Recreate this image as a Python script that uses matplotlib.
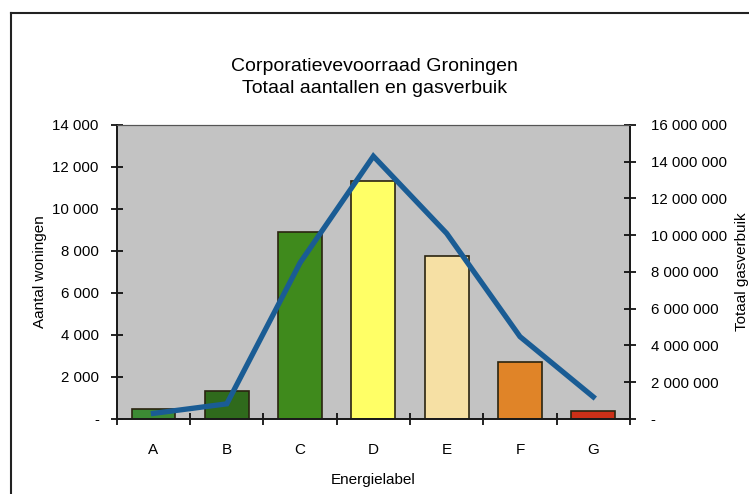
import matplotlib
matplotlib.use("Agg")
import matplotlib.pyplot as plt
import matplotlib.lines as lines
from matplotlib.ticker import FuncFormatter, FixedLocator

# Energielabel categories with number of dwellings and total gas use
labels = ["A", "B", "C", "D", "E", "F", "G"]
aantal = [490, 1350, 8890, 11350, 7780, 2700, 400]
gasverbruik = [300000, 820000, 8500000, 14300000, 10100000, 4480000, 1200000]
barColors = ["#3c8a34", "#2f6a1c", "#3f8a1c", "#ffff66", "#f6e0a4", "#e08428", "#cc3018"]

plt.rcParams["font.family"] = ["Liberation Sans", "DejaVu Sans"]

def thousands(v, pos):
    if v == 0:
        return "-"
    return "{:,.0f}".format(v).replace(",", " ")

fig = plt.figure(figsize=(7.49, 4.94), dpi=100)
ax = fig.add_axes([0.156, 0.152, 0.685, 0.595])
ax.set_facecolor("#c3c3c3")

x = list(range(len(labels)))
ax.bar(x, aantal, width=0.6, color=barColors, edgecolor="#2a2410", linewidth=1.2, zorder=2)
ax.set_xlim(-0.5, len(labels) - 0.5)
ax.set_ylim(0, 14000)
ax.set_yticks(range(0, 14001, 2000))
ax.yaxis.set_major_formatter(FuncFormatter(thousands))

# tick marks between the categories, labels in the middle
ax.xaxis.set_major_locator(FixedLocator([i - 0.5 for i in range(len(labels) + 1)]))
ax.xaxis.set_major_formatter(FuncFormatter(lambda v, p: ""))
ax.xaxis.set_minor_locator(FixedLocator(x))
ax.set_xticklabels(labels, minor=True)
ax.tick_params(axis="x", which="major", direction="inout", length=8, width=1.2)
ax.tick_params(axis="x", which="minor", length=0, pad=17, labelsize=11)
ax.tick_params(axis="y", direction="inout", length=8, width=1.2, labelsize=10.8, pad=9)

ax.set_xlabel("Energielabel", fontsize=11, labelpad=12)
ax.set_ylabel("Aantal woningen", fontsize=11, labelpad=4)

ax2 = ax.twinx()
ax2.plot(x, gasverbruik, color="#1a5c94", linewidth=3.8, solid_joinstyle="miter", zorder=3)
ax2.set_ylim(0, 16000000)
ax2.set_yticks(range(0, 16000001, 2000000))
ax2.yaxis.set_major_formatter(FuncFormatter(thousands))
ax2.tick_params(axis="y", direction="inout", length=8, width=1.2, labelsize=10.8, pad=11)
ax2.set_ylabel("Totaal gasverbuik", fontsize=11, labelpad=5.5)

for a in (ax, ax2):
    for side in ("left", "right", "bottom"):
        a.spines[side].set_linewidth(1.3)
        a.spines[side].set_color("#1a1a1a")
    a.spines["top"].set_linewidth(0.8)
    a.spines["top"].set_color("#555555")

fig.text(0.5, 0.866, "Corporatievevoorraad Groningen", ha="center", va="center", fontsize=14)
fig.text(0.5, 0.820, "Totaal aantallen en gasverbuik", ha="center", va="center", fontsize=14)

# surrounding frame
fig.add_artist(lines.Line2D([0.0147, 0.0147], [0.0, 0.974], color="#222222", linewidth=1.5))
fig.add_artist(lines.Line2D([0.0147, 1.0], [0.974, 0.974], color="#222222", linewidth=1.5))

fig.savefig("out.png", dpi=100)
